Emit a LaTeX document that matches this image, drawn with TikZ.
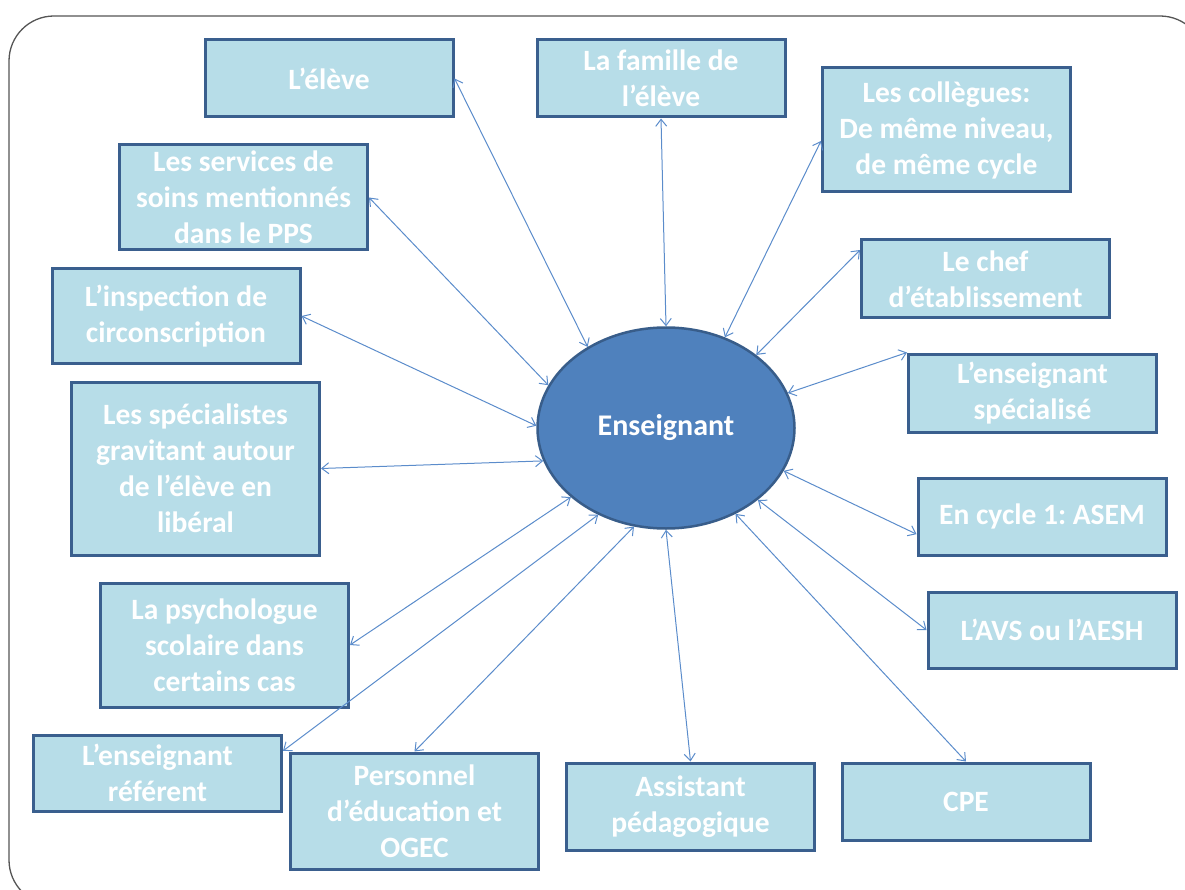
\documentclass[tikz,border=0pt]{standalone}
\usepackage{fontspec}
\setmainfont{Carlito}
\frenchspacing
\usetikzlibrary{shapes.geometric,arrows.meta}
\definecolor{boxfill}{HTML}{B7DDE8}
\definecolor{boxline}{HTML}{3A5F8E}
\definecolor{ellfill}{HTML}{4F81BD}
\definecolor{ellline}{HTML}{385D8A}
\definecolor{arrowcol}{HTML}{5B8CCB}
\definecolor{framecol}{HTML}{555555}
\tikzset{
  box/.style={draw=boxline, fill=boxfill, line width=3pt, minimum width=248pt,
    align=center, text=white, inner sep=1pt,
    font=\fontsize{29.5}{36}\selectfont\bfseries},
  link/.style={draw=arrowcol, line width=1pt,
    {Straight Barb[length=7pt,width=11pt]}-{Straight Barb[length=7pt,width=11pt]}},
}
\begin{document}
\begin{tikzpicture}[x=1pt,y=-1pt]
\useasboundingbox (0,0) rectangle (1185,890);
\draw[framecol, line width=1.3pt, rounded corners=45pt] (9,16) rectangle (1205,905);

\node[ellipse, draw=ellline, fill=ellfill, line width=2.5pt, minimum width=257pt,
  minimum height=201pt, inner sep=0pt, text=white,
  font=\fontsize{30}{36}\selectfont\bfseries] (ens) at (666,428) {Enseignant};

\node[box, minimum height=77pt] (eleve) at (329,78.5) {L’élève};
\node[box, minimum height=77pt] (fam) at (661,78.5) {La famille de\\l’élève};
\node[box, minimum height=124pt] (coll) at (946.5,130) {Les collègues:\\De même niveau,\\de même cycle};
\node[box, minimum height=105pt] (serv) at (243.5,197.5) {Les services de\\soins mentionnés\\dans le PPS};
\node[box, minimum height=78pt] (chef) at (985.5,279) {Le chef\\d’établissement};
\node[box, minimum height=94pt] (insp) at (176,316) {L’inspection de\\circonscription};
\node[box, minimum height=78pt] (spe) at (1032.5,393) {L’enseignant\\spécialisé};
\node[box, minimum height=173pt] (lib) at (195.5,468.5) {Les spécialistes\\gravitant autour\\de l’élève en\\libéral};
\node[box, minimum height=77pt] (asem) at (1042,516.5) {En cycle 1: ASEM};
\node[box, minimum height=124pt] (psy) at (224.5,645) {La psychologue\\scolaire dans\\certains cas};
\node[box, minimum height=76pt] (avs) at (1052,630) {L’AVS ou l’AESH};
\node[box, minimum height=76pt] (ref) at (157.5,773) {L’enseignant\\référent};
\node[box, minimum height=116pt] (pers) at (414.5,811) {Personnel\\d’éducation et\\OGEC};
\node[box, minimum height=87pt] (asp) at (690.5,806.5) {Assistant\\pédagogique};
\node[box, minimum height=77pt] (cpe) at (966,801.5) {CPE};

\draw[link] (eleve.east) -- (ens.134);
\draw[link] (fam.south) -- (ens.90);
\draw[link] (coll.185) -- (ens.57);
\draw[link] (chef.167) -- (ens.39);
\draw[link] (spe.north west) -- (ens.16);
\draw[link] (asem.188) -- (ens.-20);
\draw[link] (avs.west) -- (ens.-38);
\draw[link] (cpe.north) -- (ens.-51);
\draw[link] (asp.north) -- (ens.-90);
\draw[link] (pers.north) -- (ens.-108);
\draw[link] (ref.10) -- (ens.-128);
\draw[link] (psy.east) -- (ens.-144);
\draw[link] (lib.east) -- (ens.-165);
\draw[link] (insp.east) -- (ens.179);
\draw[link] (serv.east) -- (ens.160);
\end{tikzpicture}
\end{document}
